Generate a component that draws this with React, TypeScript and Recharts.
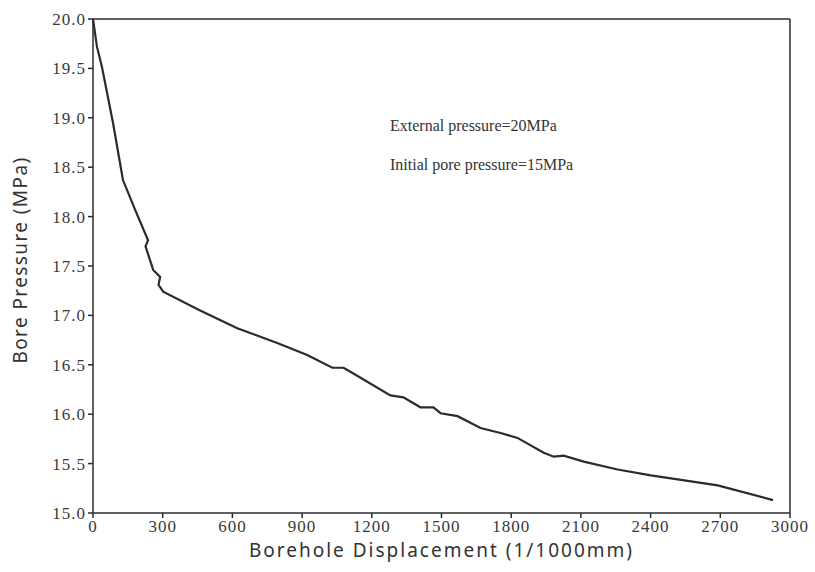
import { LineChart, Line, XAxis, YAxis, ReferenceLine, Label } from "recharts";

// borehole displacement (1/1000 mm) and bore pressure (MPa)
const displacement = [
  0, 17, 39, 86, 129, 181, 237, 226, 259, 289, 282, 302, 461, 621, 793, 922, 1030, 1078, 1108, 1280, 1336,
  1409, 1465, 1496, 1569, 1668, 1754, 1827, 1940, 1983, 2026, 2112, 2258, 2401, 2689, 2927,
];
const pressure = [
  20.0, 19.72, 19.51, 18.95, 18.37, 18.07, 17.76, 17.7, 17.46, 17.39, 17.31, 17.24, 17.05, 16.87, 16.72, 16.6,
  16.47, 16.47, 16.43, 16.19, 16.17, 16.07, 16.07, 16.01, 15.98, 15.86, 15.81, 15.76, 15.61, 15.57, 15.58, 15.52,
  15.44, 15.38, 15.28, 15.13,
];
const xTicks = [0, 300, 600, 900, 1200, 1500, 1800, 2100, 2400, 2700, 3000];
const yTicks = [15, 15.5, 16, 16.5, 17, 17.5, 18, 18.5, 19, 19.5, 20];
const notes = ["External pressure=20MPa", "Initial pore pressure=15MPa"];

const data = displacement.map((d, i) => ({ d, p: pressure[i] }));

const ink = "#2b2b2b";
const tickFont = { fontFamily: "Liberation Serif", fontSize: 17, fill: "#3a3a3a", letterSpacing: 1 };
const titleFont = { fontFamily: "Noto Sans", fontSize: 19, fill: "#333" };

export default function App() {
  return (
    <div style={{ position: "absolute", left: 0, top: 0, width: 815, height: 572, background: "#fff" }}>
      <LineChart width={815} height={572} data={data} margin={{ top: 19, right: 25, bottom: 0, left: 0 }}>
        <XAxis
          dataKey="d"
          type="number"
          domain={[0, 3000]}
          ticks={xTicks}
          height={59}
          stroke={ink}
          strokeWidth={1.5}
          tickSize={5}
          tick={tickFont}
          interval={0}
        >
          <Label
            value="Borehole Displacement (1/1000mm)"
            position="insideBottom"
            offset={15}
            style={{ ...titleFont, letterSpacing: 2 }}
          />
        </XAxis>
        <YAxis
          dataKey="p"
          type="number"
          domain={[15, 20]}
          ticks={yTicks}
          width={93}
          stroke={ink}
          strokeWidth={1.5}
          tickSize={5}
          tick={tickFont}
          interval={0}
          tickFormatter={(v: number) => v.toFixed(1)}
        >
          <Label
            value="Bore Pressure (MPa)"
            angle={-90}
            position="insideLeft"
            offset={20}
            dy={-6}
            style={{ ...titleFont, textAnchor: "middle", letterSpacing: 1.4 }}
          />
        </YAxis>
        <ReferenceLine y={20} stroke={ink} strokeWidth={1.5} />
        <ReferenceLine x={3000} stroke={ink} strokeWidth={1.5} />
        <Line
          dataKey="p"
          type="linear"
          stroke={ink}
          strokeWidth={2.2}
          dot={false}
          isAnimationActive={false}
        />
      </LineChart>
      {notes.map((t, i) => (
        <div
          key={t}
          style={{
            position: "absolute",
            left: 390,
            top: 117 + i * 39,
            fontFamily: "Liberation Serif",
            fontSize: 16,
            color: "#333",
            whiteSpace: "nowrap",
          }}
        >
          {t}
        </div>
      ))}
    </div>
  );
}
